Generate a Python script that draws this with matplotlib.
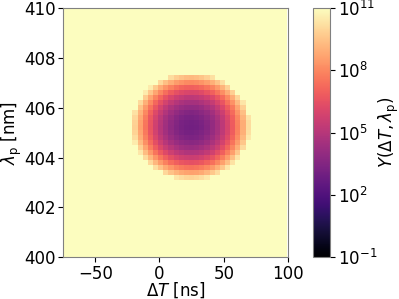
import numpy as np
import matplotlib.pyplot as plt
from matplotlib.colors import LogNorm

# grid of the scan
dt_ns = np.arange(-75, 100.1, 4.0)        # ΔT [ns]
lam_nm = np.arange(400, 410.01, 0.2)      # λp [nm]

# blob
dt0, lam0 = 24.5, 405.25     # centre
r_dt, r_lam = 46.0, 2.15     # edge of the region, outside is saturated
log_centre, log_edge = 3.0, 10.6
y_outside = 1e12

cbar_ticks = [1e-1, 1e2, 1e5, 1e8, 1e11]

T, L = np.meshgrid(dt_ns, lam_nm)
r = np.sqrt(((T - dt0) / r_dt) ** 2 + ((L - lam0) / r_lam) ** 2)
Y = np.where(r < 1, 10 ** (log_centre + (log_edge - log_centre) * r ** 2), y_outside)

fs = 12
fig = plt.figure(figsize=(3.99, 2.99), dpi=100)
ax = fig.add_axes([0.158, 0.140, 0.564, 0.833])
cax = fig.add_axes([0.784, 0.140, 0.043, 0.833])

im = ax.pcolormesh(dt_ns, lam_nm, Y, cmap='magma', norm=LogNorm(1e-1, 1e11), shading='nearest')
ax.set_xlim(-75, 100)
ax.set_ylim(400, 410)
ax.set_xticks([-50, 0, 50, 100])
ax.set_yticks([400, 402, 404, 406, 408, 410])
ax.tick_params(labelsize=fs, pad=2)
ax.set_xlabel(r'$\Delta T$ [ns]', fontsize=fs, labelpad=-1.5)
ax.set_ylabel(r'$\lambda_\mathrm{p}$ [nm]', fontsize=fs, labelpad=0)
for s in ax.spines.values():
    s.set_color('0.5')

cb = fig.colorbar(im, cax=cax)
cb.set_ticks(cbar_ticks)
cb.ax.tick_params(labelsize=fs, pad=2)
cb.ax.minorticks_off()
cb.outline.set_edgecolor('0.5')
cb.set_label(r'$Y(\Delta T, \lambda_\mathrm{p})$', fontsize=fs, labelpad=0)

plt.savefig('out.png', dpi=100)
plt.close()
